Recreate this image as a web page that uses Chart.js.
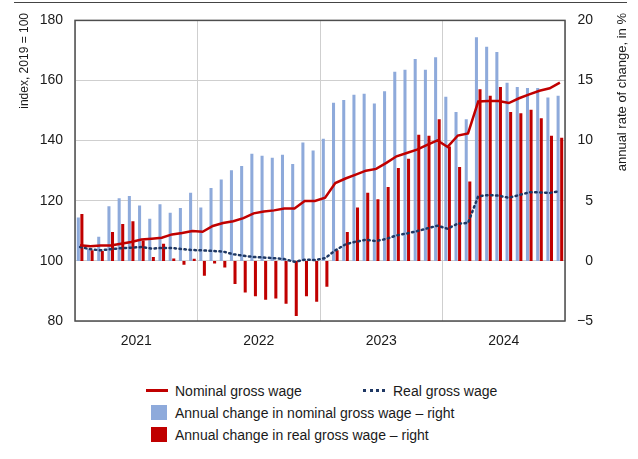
<!DOCTYPE html>
<html>
<head>
<meta charset="utf-8">
<script src="https://cdn.jsdelivr.net/npm/chart.js@4"></script>
<style>
  body { margin: 0; background: #fff; font-family: "Liberation Sans", Arial, sans-serif; color: #1a1a1a; }
  #wrap { position: relative; width: 638px; height: 459px; overflow: hidden; }
  #topline { position: absolute; left: 14px; top: 2px; width: 613px; border-top: 1.5px solid #444; }
  #box { position: absolute; left: 0; top: 0; width: 638px; height: 360px; }
  .lg { position: absolute; font-size: 14px; line-height: 20px; white-space: nowrap; }
  .sw { position: absolute; }
</style>
</head>
<body>
<div id="wrap">
  <div id="topline"></div>
  <div id="box"><canvas id="grafico"></canvas></div>
  <div id="legenda"></div>
</div>
<script>
// dados (jan 2021 - dez 2024)
const meses = [
  "Jan 2021","Feb 2021","Mar 2021","Apr 2021","May 2021","Jun 2021","Jul 2021","Aug 2021","Sep 2021","Oct 2021","Nov 2021","Dec 2021",
  "Jan 2022","Feb 2022","Mar 2022","Apr 2022","May 2022","Jun 2022","Jul 2022","Aug 2022","Sep 2022","Oct 2022","Nov 2022","Dec 2022",
  "Jan 2023","Feb 2023","Mar 2023","Apr 2023","May 2023","Jun 2023","Jul 2023","Aug 2023","Sep 2023","Oct 2023","Nov 2023","Dec 2023",
  "Jan 2024","Feb 2024","Mar 2024","Apr 2024","May 2024","Jun 2024","Jul 2024","Aug 2024","Sep 2024","Oct 2024","Nov 2024","Dec 2024"
];
const anos = ["2021", "2022", "2023", "2024"];

// índice, 2019 = 100 (eixo esquerdo)
const salarioNominal = [
  105.2, 104.9, 105.1, 105.1, 105.7, 106.3, 107.1, 107.4, 107.7, 108.8, 109.3, 109.9,
  109.7, 111.6, 112.6, 113.2, 114.2, 115.8, 116.4, 116.8, 117.4, 117.4, 119.9, 119.9,
  121.0, 125.9, 127.4, 128.7, 130.0, 130.6, 132.6, 134.8, 135.9, 137.0, 138.6, 140.1,
  137.9, 141.7, 142.4, 153.0, 153.2, 153.2, 152.5, 154.1, 155.4, 156.6, 157.4, 159.3
];
const salarioReal = [
  104.6, 103.9, 103.5, 103.9, 104.2, 104.4, 104.6, 104.1, 104.3, 104.3, 103.9, 103.6,
  103.5, 103.3, 103.1, 102.2, 101.7, 101.3, 101.1, 100.9, 100.6, 99.7, 100.4, 100.3,
  100.9, 103.5, 105.5, 106.4, 107.0, 106.6, 107.3, 108.5, 109.1, 109.9, 110.8, 111.7,
  110.7, 112.4, 112.6, 121.5, 121.9, 121.7, 121.0, 121.9, 122.8, 122.8, 122.6, 123.2
];

// variação anual, em % (eixo direito)
const variacaoNominal = [
  3.6, 1.0, 2.0, 4.55, 5.2, 5.4, 4.6, 3.5, 4.7, 4.0, 4.4, 5.66,
  4.44, 6.07, 6.76, 7.53, 7.9, 8.9, 8.75, 8.58, 8.83, 8.06, 9.85, 9.19,
  10.15, 13.16, 13.38, 13.82, 13.9, 13.08, 14.1, 15.73, 15.9, 16.78, 15.9, 16.94,
  13.66, 12.39, 11.78, 18.6, 17.8, 17.38, 14.82, 14.46, 14.38, 14.38, 13.58, 13.74
];
const variacaoReal = [
  3.9, 0.88, 0.83, 2.4, 3.06, 3.3, 1.7, 0.33, 1.43, 0.2, -0.33, 0.17,
  -1.24, -0.22, -0.55, -1.93, -2.62, -2.95, -3.23, -3.12, -3.56, -4.58, -2.95, -3.39,
  -2.15, 0.88, 2.4, 4.44, 5.66, 5.13, 6.15, 7.73, 8.5, 10.49, 10.4, 11.78,
  9.52, 7.81, 6.6, 14.27, 13.74, 14.46, 12.39, 12.28, 12.56, 11.87, 10.4, 10.24
];

const tituloEsq = "index, 2019 = 100";
const tituloDir = "annual rate of change, in %";

const FONTE = '"Liberation Sans", Arial, sans-serif';
const corTexto = "#1a1a1a";
const corGrade = "#cfcfcf";

// moldura do gráfico + títulos dos eixos (lidos de baixo para cima)
const molduraPlugin = {
  id: "moldura",
  afterDraw(chart) {
    const { ctx, chartArea: a } = chart;
    ctx.save();
    ctx.strokeStyle = "#4d4d4d";
    ctx.lineWidth = 1.5;
    ctx.strokeRect(a.left, a.top, a.right - a.left, a.bottom - a.top);
    ctx.fillStyle = corTexto;
    ctx.textAlign = "right";
    ctx.textBaseline = "middle";
    [[25, tituloEsq, 12], [622, tituloDir, 13]].forEach(([x, t, tam]) => {
      ctx.save();
      ctx.font = tam + "px " + FONTE;
      ctx.translate(x, 13);
      ctx.rotate(-Math.PI / 2);
      ctx.fillText(t, 0, 0);
      ctx.restore();
    });
    ctx.restore();
  }
};

const datasets = [
  {
    type: "line", label: "Nominal gross wage", data: salarioNominal, yAxisID: "y",
    borderColor: "#c00000", borderWidth: 2.5, pointRadius: 0, order: 1
  },
  {
    type: "line", label: "Real gross wage", data: salarioReal, yAxisID: "y",
    borderColor: "#1f3864", borderWidth: 2.5, borderDash: [1.5, 3.5], borderCapStyle: "round",
    pointRadius: 0, order: 1
  },
  {
    type: "bar", label: "Annual change in nominal gross wage – right", data: variacaoNominal, yAxisID: "y2",
    backgroundColor: "#8eaadb", categoryPercentage: 0.7, barPercentage: 0.85, order: 2
  },
  {
    type: "bar", label: "Annual change in real gross wage – right", data: variacaoReal, yAxisID: "y2",
    backgroundColor: "#c00000", categoryPercentage: 0.7, barPercentage: 0.85, order: 2
  }
];

const chart = new Chart(document.getElementById("grafico"), {
  data: { labels: meses, datasets: datasets },
  options: {
    responsive: true,
    maintainAspectRatio: false,
    animation: false,
    layout: { padding: { top: 17, right: 45, left: 0, bottom: 0 } },
    plugins: { legend: { display: false }, tooltip: { enabled: false } },
    scales: {
      x: { type: "category", display: false, offset: true },
      anos: {
        type: "category", labels: anos, position: "bottom", offset: true,
        grid: { offset: true, color: corGrade, drawTicks: false },
        border: { display: false },
        ticks: { padding: 12, color: corTexto, font: { family: FONTE, size: 14 } },
        afterFit(s) { s.height = 39; }
      },
      y: {
        position: "left", min: 80, max: 180,
        ticks: { stepSize: 20, padding: 12, color: corTexto, font: { family: FONTE, size: 14 } },
        grid: { color: corGrade, drawTicks: false },
        border: { display: false },
        afterFit(s) { s.width = 75; }
      },
      y2: {
        position: "right", min: -5, max: 20,
        ticks: {
          stepSize: 5, crossAlign: "far", color: corTexto, font: { family: FONTE, size: 14 },
          callback: v => (v < 0 ? "\u2212" + Math.abs(v) : String(v))
        },
        grid: { display: false, drawTicks: false },
        border: { display: false },
        afterFit(s) { s.width = 28; }
      }
    }
  },
  plugins: [molduraPlugin]
});

// legenda em HTML (layout igual ao original)
const itensLegenda = [
  { t: datasets[0].label, x: 175, y: 391, sw: "border-top:3px solid #c00000;width:22px;left:146px;top:389px" },
  { t: datasets[1].label, x: 393, y: 391, sw: "border-top:3px dotted #1f3864;width:22px;left:363px;top:389px" },
  { t: datasets[2].label, x: 175, y: 413, sw: "background:#8eaadb;width:16px;height:15px;left:151px;top:405px" },
  { t: datasets[3].label, x: 175, y: 435, sw: "background:#c00000;width:16px;height:15px;left:151px;top:427px" }
];
const legenda = document.getElementById("legenda");
itensLegenda.forEach(item => {
  const sw = document.createElement("div");
  sw.className = "sw";
  sw.style.cssText = sw.style.cssText + item.sw;
  legenda.appendChild(sw);
  const txt = document.createElement("div");
  txt.className = "lg";
  txt.style.left = item.x + "px";
  txt.style.top = (item.y - 10) + "px";
  txt.textContent = item.t;
  legenda.appendChild(txt);
});
</script>
</body>
</html>
